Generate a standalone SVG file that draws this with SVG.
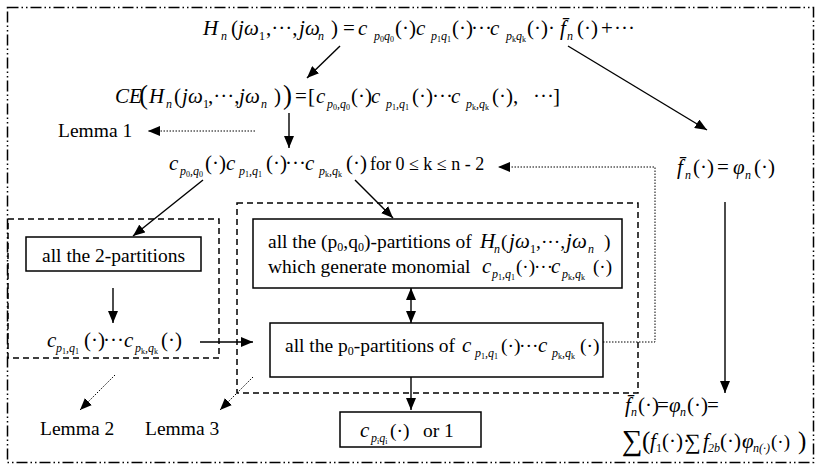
<svg xmlns="http://www.w3.org/2000/svg" width="823" height="470" viewBox="0 0 823 470">
<defs>
<marker id="ah" viewBox="0 0 12 10" refX="12" refY="5" markerWidth="12" markerHeight="10" markerUnits="userSpaceOnUse" orient="auto-start-reverse"><path d="M0,0 L12,5 L0,10 z" fill="#000"/></marker>
<style>
text{font-family:"Liberation Serif","Times New Roman",serif;fill:#000}
.t{font-size:19.5px}
.m{font-size:21px;font-style:italic}
.u{font-style:normal}
.s{font-size:12px;font-style:italic}
.su{font-size:12px;font-style:normal}
.ss{font-size:8px;font-style:normal}
.box{fill:#fff;stroke:#000;stroke-width:1.5}
.dash{fill:none;stroke:#000;stroke-width:1.5;stroke-dasharray:6 4}
.frame{fill:none;stroke:#000;stroke-width:1.5;stroke-dasharray:11 3 1.5 3 1.5 3}
.ln{fill:none;stroke:#000;stroke-width:1.4;marker-end:url(#ah)}
.dt{fill:none;stroke:#000;stroke-width:1;stroke-dasharray:1.5 1.5;marker-end:url(#ah)}
</style>
</defs>
<rect class="frame" x="7.5" y="7.5" width="806" height="455"/>
<rect class="dash" x="8" y="219" width="211" height="139"/>
<rect class="dash" x="237" y="203" width="401" height="190"/>

<g id="connectors">
<line class="ln" x1="340" y1="46" x2="307" y2="78"/>
<line class="ln" x1="568" y1="46" x2="707" y2="130"/>
<line class="ln" x1="289" y1="113" x2="289" y2="148"/>
<line class="dt" x1="255" y1="131" x2="148" y2="131"/>
<line class="ln" x1="203" y1="180" x2="133" y2="236"/>
<line class="ln" x1="355" y1="180" x2="393" y2="218"/>
<line class="ln" x1="113" y1="288" x2="113" y2="323"/>
<line class="ln" x1="200" y1="342" x2="253" y2="342"/>
<line class="ln" x1="411" y1="288" x2="411" y2="323" style="marker-start:url(#ah)"/>
<line class="ln" x1="411" y1="377" x2="411" y2="410"/>
<polyline class="dt" points="603,342 655,342 655,167 498,167"/>
<line class="dt" x1="115" y1="375" x2="80" y2="410"/>
<line class="dt" x1="253" y1="377" x2="220" y2="410"/>
<line class="ln" x1="725" y1="202" x2="725" y2="393"/>
</g>

<g id="eq1">
<text class="m"><tspan x="203" y="35">H</tspan><tspan class="s" x="221" y="40">n</tspan><tspan class="u" x="231" y="35">(</tspan><tspan x="238">j</tspan><tspan x="244">ω</tspan><tspan class="su" x="259" y="40">1</tspan><tspan class="u" x="266" y="35">,···,</tspan><tspan x="299">j</tspan><tspan x="305">ω</tspan><tspan class="s" x="318" y="40">n</tspan><tspan class="u" x="331" y="35">)</tspan><tspan class="u" x="343">=</tspan><tspan x="358">c</tspan><tspan class="s" x="374" y="40">p</tspan><tspan class="ss" y="42">0</tspan><tspan class="s" y="40">q</tspan><tspan class="ss" y="42">0</tspan><tspan class="u" x="395" y="35">(·)</tspan><tspan x="416">c</tspan><tspan class="s" x="431" y="40">p</tspan><tspan class="ss" y="42">1</tspan><tspan class="s" y="40">q</tspan><tspan class="ss" y="42">1</tspan><tspan class="u" x="452" y="35">(·)</tspan><tspan class="u" x="471">···</tspan><tspan x="490">c</tspan><tspan class="s" x="506" y="40">p</tspan><tspan class="ss" y="42">k</tspan><tspan class="s" y="40">q</tspan><tspan class="ss" y="42">k</tspan><tspan class="u" x="527" y="35">(·)·</tspan><tspan x="560">f̄</tspan><tspan class="s" x="567" y="40">n</tspan><tspan class="u" x="577" y="35">(·)</tspan><tspan class="u" x="601">+</tspan><tspan class="u" x="614">···</tspan></text>
</g>

<g id="eq2">
<text class="m"><tspan x="115" y="103">CE</tspan><tspan class="u" font-size="27" x="139" y="104">(</tspan><tspan x="149" y="103">H</tspan><tspan class="s" x="166" y="108">n</tspan><tspan class="u" x="174" y="103">(</tspan><tspan x="182">j</tspan><tspan x="188">ω</tspan><tspan class="su" x="203" y="108">1</tspan><tspan class="u" x="208" y="103">,···,</tspan><tspan x="239">j</tspan><tspan x="245">ω</tspan><tspan class="s" x="261" y="108">n</tspan><tspan class="u" x="274" y="103">)</tspan><tspan class="u" font-size="27" x="283" y="104">)</tspan><tspan class="u" x="295" y="103">=</tspan><tspan class="u" x="308">[</tspan><tspan x="316">c</tspan><tspan class="s" x="327" y="108">p</tspan><tspan class="ss" y="110">0</tspan><tspan class="s" y="108">,q</tspan><tspan class="ss" y="110">0</tspan><tspan class="u" x="351" y="103">(·)</tspan><tspan x="371">c</tspan><tspan class="s" x="386" y="108">p</tspan><tspan class="ss" y="110">1</tspan><tspan class="s" y="108">,q</tspan><tspan class="ss" y="110">1</tspan><tspan class="u" x="412" y="103">(·)</tspan><tspan class="u" x="432">···</tspan><tspan x="451">c</tspan><tspan class="s" x="466" y="108">p</tspan><tspan class="ss" y="110">k</tspan><tspan class="s" y="108">,q</tspan><tspan class="ss" y="110">k</tspan><tspan class="u" x="492" y="103">(·),</tspan><tspan class="u" x="533">···</tspan><tspan class="u" x="553">]</tspan></text>
</g>

<g id="lemma1"><text x="58" y="137" class="t">Lemma 1</text></g>

<g id="eq3">
<text class="m"><tspan x="169" y="170">c</tspan><tspan class="s" x="180" y="175">p</tspan><tspan class="ss" y="177">0</tspan><tspan class="s" y="175">,q</tspan><tspan class="ss" y="177">0</tspan><tspan class="u" x="205" y="170">(·)</tspan><tspan x="226">c</tspan><tspan class="s" x="239" y="175">p</tspan><tspan class="ss" y="177">1</tspan><tspan class="s" y="175">,q</tspan><tspan class="ss" y="177">1</tspan><tspan class="u" x="266" y="170">(·)</tspan><tspan class="u" x="285">···</tspan><tspan x="305">c</tspan><tspan class="s" x="319" y="175">p</tspan><tspan class="ss" y="177">k</tspan><tspan class="s" y="175">,q</tspan><tspan class="ss" y="177">k</tspan><tspan class="u" x="346" y="170">(·)</tspan><tspan class="u" x="370" font-size="18">for 0 ≤ k ≤ n - 2</tspan></text>
</g>

<g id="eq-right">
<text class="m"><tspan x="677" y="174">f̄</tspan><tspan class="s" x="685" y="179">n</tspan><tspan class="u" x="693" y="174">(·)</tspan><tspan class="u" x="717">=</tspan><tspan x="733">φ</tspan><tspan class="s" x="745" y="179">n</tspan><tspan class="u" x="754" y="174">(·)</tspan></text>
</g>

<g id="two-partitions">
<rect class="box" x="26" y="237" width="175" height="34"/>
<text x="113.5" y="262" class="t" text-anchor="middle">all the 2-partitions</text>
</g>

<g id="mono-left">
<text class="m"><tspan x="47" y="347">c</tspan><tspan class="s" x="56" y="352">p</tspan><tspan class="ss" y="354">1</tspan><tspan class="s" y="352">,q</tspan><tspan class="ss" y="354">1</tspan><tspan class="u" x="84" y="347">(·)</tspan><tspan class="u" x="103">···</tspan><tspan x="124">c</tspan><tspan class="s" x="135" y="352">p</tspan><tspan class="ss" y="354">k</tspan><tspan class="s" y="352">,q</tspan><tspan class="ss" y="354">k</tspan><tspan class="u" x="161" y="347">(·)</tspan></text>
</g>

<g id="p0q0-partitions">
<rect class="box" x="253" y="219" width="369" height="69"/>
<text class="t"><tspan x="268" y="248">all the (p</tspan><tspan font-size="12" y="251">0</tspan><tspan y="248">,q</tspan><tspan font-size="12" y="251">0</tspan><tspan y="248">)-partitions of</tspan><tspan class="m" x="480">H</tspan><tspan class="s" x="494" y="253">n</tspan><tspan x="501" y="248">(</tspan><tspan class="m" x="509">j</tspan><tspan class="m" x="515">ω</tspan><tspan class="su" x="530" y="253">1</tspan><tspan x="536" y="248">,···,</tspan><tspan class="m" x="566">j</tspan><tspan class="m" x="572">ω</tspan><tspan class="s" x="588" y="253">n</tspan><tspan x="604" y="248">)</tspan></text>
<text class="t"><tspan x="268" y="273">which generate monomial</tspan><tspan class="m" font-size="19" x="482">c</tspan><tspan class="s" font-size="11" x="492" y="278">p</tspan><tspan class="ss" font-size="7" y="280">1</tspan><tspan class="s" font-size="11" y="278">,q</tspan><tspan class="ss" font-size="7" y="280">1</tspan><tspan font-size="19" x="516" y="273">(·)</tspan><tspan font-size="19" x="534">···</tspan><tspan class="m" font-size="19" x="551">c</tspan><tspan class="s" font-size="11" x="562" y="278">p</tspan><tspan class="ss" font-size="7" y="280">k</tspan><tspan class="s" font-size="11" y="278">,q</tspan><tspan class="ss" font-size="7" y="280">k</tspan><tspan font-size="19" x="593" y="273">(·)</tspan></text>
</g>

<g id="p0-partitions">
<rect class="box" x="270" y="323" width="333" height="54"/>
<text class="t"><tspan x="285" y="352">all the p</tspan><tspan font-size="12" y="355">0</tspan><tspan y="352">-partitions of</tspan><tspan class="m" x="462">c</tspan><tspan class="s" x="475" y="357">p</tspan><tspan class="ss" y="359">1</tspan><tspan class="s" y="357">,q</tspan><tspan class="ss" y="359">1</tspan><tspan x="501" y="352">(·)</tspan><tspan x="519">···</tspan><tspan class="m" x="538">c</tspan><tspan class="s" x="552" y="357">p</tspan><tspan class="ss" y="359">k</tspan><tspan class="s" y="357">,q</tspan><tspan class="ss" y="359">k</tspan><tspan x="580" y="352">(·)</tspan></text>
</g>

<g id="result">
<rect class="box" x="340" y="412" width="141" height="35"/>
<text class="t"><tspan class="m" x="360" y="437">c</tspan><tspan class="s" x="371" y="442">p</tspan><tspan class="ss" y="444">i</tspan><tspan class="s" y="442">q</tspan><tspan class="ss" y="444">i</tspan><tspan x="390" y="437">(·)</tspan><tspan x="423">or 1</tspan></text>
</g>

<g id="lemma2"><text x="40" y="435" class="t">Lemma 2</text></g>
<g id="lemma3"><text x="145" y="435" class="t">Lemma 3</text></g>

<g id="eq-bottom">
<text class="m" font-size="17"><tspan x="625" y="412">f̄</tspan><tspan class="s" font-size="11" x="631" y="416">n</tspan><tspan class="u" x="638" y="412">(·)</tspan><tspan class="u" x="657">=</tspan><tspan x="669">φ</tspan><tspan class="s" font-size="11" x="680" y="416">n</tspan><tspan class="u" x="687" y="412">(·)</tspan><tspan class="u" x="707">=</tspan></text>
<text class="m" font-size="16.5"><tspan class="u" font-size="29" x="622" y="450">∑</tspan><tspan class="u" font-size="25" x="642" y="449">(</tspan><tspan x="650" y="448">f</tspan><tspan class="su" font-size="11" x="656" y="452">1</tspan><tspan class="u" x="662" y="448">(·)·</tspan><tspan class="u" font-size="22" x="685" y="449">∑</tspan><tspan x="703" y="448">f</tspan><tspan class="s" font-size="11" x="708" y="452">2b</tspan><tspan class="u" x="720" y="448">(·)·</tspan><tspan x="742">φ</tspan><tspan class="s" font-size="10" x="753" y="452">n(·)</tspan><tspan class="u" font-size="19" x="771" y="448">(·)</tspan><tspan class="u" font-size="25" x="798" y="449">)</tspan></text>
</g>
</svg>
